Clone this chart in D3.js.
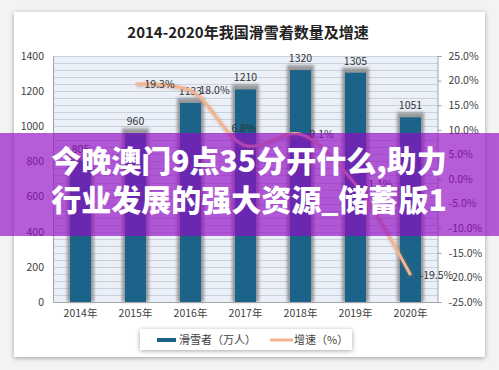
<!DOCTYPE html>
<html>
<head>
<meta charset="utf-8">
<script src="https://cdn.jsdelivr.net/npm/d3@7"></script>
<style>
  html, body { margin: 0; padding: 0; background: #f3f3f3; }
  svg { display: block; font-family: "Noto Sans CJK SC", "Noto Sans", sans-serif; }
</style>
</head>
<body>
<script>
// data
var years = ["2014", "2015", "2016", "2017", "2018", "2019", "2020"];
var skiers = [805, 960, 1133, 1210, 1320, 1305, 1051];
var growthYears = ["2015", "2016", "2017", "2018", "2019", "2020"];
var growth = [19.3, 18.0, 6.8, 9.1, -1.1, -19.5];
var leftTicks = [0, 200, 400, 600, 800, 1000, 1200, 1400];
var rightTicks = [-25, -20, -15, -10, -5, 0, 5, 10, 15, 20, 25];
var title = "2014-2020年我国滑雪着数量及增速";
var legendNames = ["滑雪者（万人）", "增速（%）"];
var overlayLines = ["今晚澳门9点35分开什么,助力", "行业发展的强大资源_储蓄版1"];

// config (plot box edges)
var width = 499, height = 370;
var pLeft = 53, pRight = 438, pTop = 56, pBottom = 302;
var barColor = "#1b6388";
var lineColor = "#f3b48f";

var svg = d3.select("body").append("svg")
  .attr("width", width)
  .attr("height", height);

var defs = svg.append("defs");
defs.append("filter").attr("id", "cardShadow")
  .attr("x", "-10%").attr("y", "-10%").attr("width", "120%").attr("height", "130%")
  .append("feDropShadow")
  .attr("dx", 0).attr("dy", 1).attr("stdDeviation", 2.5)
  .attr("flood-color", "#000").attr("flood-opacity", 0.35);
defs.append("filter").attr("id", "blur")
  .attr("x", "-50%").attr("y", "-50%").attr("width", "200%").attr("height", "200%")
  .append("feGaussianBlur").attr("stdDeviation", 1.6);

// card
svg.append("rect")
  .attr("x", 14).attr("y", 12)
  .attr("width", 471).attr("height", 345)
  .attr("fill", "#fff")
  .attr("filter", "url(#cardShadow)");

// title
svg.append("text")
  .attr("x", 248).attr("y", 38)
  .attr("text-anchor", "middle")
  .attr("font-size", 15)
  .attr("font-weight", "bold")
  .attr("fill", "#222")
  .text(title);

// scales
var x = d3.scaleBand().domain(years).range([pLeft, pRight]).paddingInner(0.618).paddingOuter(0.309);
var yL = d3.scaleLinear().domain([0, 1400]).range([pBottom, pTop]);
var yR = d3.scaleLinear().domain([-25, 25]).range([pBottom, pTop]);
var cx = function(d) { return x(d) + x.bandwidth() / 2; };

// plot background + gridlines
svg.append("rect")
  .attr("x", pLeft).attr("y", pTop)
  .attr("width", pRight - pLeft).attr("height", pBottom - pTop)
  .attr("fill", "#ebf0f8");

svg.append("g")
  .selectAll("line")
  .data(d3.range(40, 1400, 40))
  .join("line")
  .attr("x1", pLeft).attr("x2", pRight)
  .attr("y1", function(d) { return Math.round(yL(d)) + 0.5; })
  .attr("y2", function(d) { return Math.round(yL(d)) + 0.5; })
  .attr("stroke", "#c9d1dd")
  .attr("stroke-width", 1);

svg.append("line")
  .attr("x1", pLeft).attr("x2", pRight)
  .attr("y1", pTop + 0.5).attr("y2", pTop + 0.5)
  .attr("stroke", "#c9d1dd");

// bars: shadow then bar
svg.append("g")
  .selectAll("rect")
  .data(skiers)
  .join("rect")
  .attr("x", function(d, i) { return x(years[i]) - 3; })
  .attr("y", function(d) { return yL(d) - 5; })
  .attr("width", x.bandwidth() + 6)
  .attr("height", function(d) { return pBottom - yL(d) + 5; })
  .attr("fill", "#7d7d7d")
  .attr("opacity", 0.75)
  .attr("filter", "url(#blur)");

svg.append("g")
  .selectAll("rect")
  .data(skiers)
  .join("rect")
  .attr("x", function(d, i) { return x(years[i]); })
  .attr("y", function(d) { return yL(d); })
  .attr("width", x.bandwidth())
  .attr("height", function(d) { return pBottom - yL(d); })
  .attr("fill", barColor);

// axes
var axL = svg.append("g")
  .attr("transform", "translate(" + pLeft + ",0)")
  .call(d3.axisLeft(yL).tickValues(leftTicks).tickSize(0).tickPadding(9).tickFormat(d3.format("d")));
axL.select(".domain").attr("stroke", "#a6a6a6");

var axR = svg.append("g")
  .attr("transform", "translate(" + (pRight - 0.5) + ",0)")
  .call(d3.axisRight(yR).tickValues(rightTicks).tickSize(4).tickPadding(7)
    .tickFormat(function(d) { return d.toFixed(1) + "%"; }));
axR.select(".domain").attr("stroke", "#a6a6a6");
axR.selectAll(".tick line").attr("stroke", "#a6a6a6");

var axB = svg.append("g")
  .attr("transform", "translate(0," + pBottom + ")")
  .call(d3.axisBottom(x).tickSize(0).tickPadding(8)
    .tickFormat(function(d) { return d + "年"; }));
axB.select(".domain").attr("stroke", "#a6a6a6");

svg.selectAll(".tick text")
  .attr("font-family", "\"Noto Sans CJK SC\", sans-serif")
  .attr("font-size", 10.5)
  .attr("fill", "#404040");

// bar labels
svg.append("g")
  .selectAll("text")
  .data(skiers)
  .join("text")
  .attr("x", function(d, i) { return cx(years[i]); })
  .attr("y", function(d) { return yL(d) - 8; })
  .attr("text-anchor", "middle")
  .attr("font-size", 10.5)
  .attr("fill", "#333")
  .text(function(d) { return d; });

// growth line
var line = d3.line()
  .x(function(d, i) { return cx(growthYears[i]); })
  .y(function(d) { return yR(d); })
  .curve(d3.curveCatmullRom.alpha(0.5));

svg.append("path")
  .datum(growth)
  .attr("d", line)
  .attr("fill", "none")
  .attr("stroke", "#b07a66")
  .attr("stroke-width", 3.5)
  .attr("opacity", 0.45)
  .attr("transform", "translate(1,1.5)")
  .attr("filter", "url(#blur)");

svg.append("path")
  .datum(growth)
  .attr("d", line)
  .attr("fill", "none")
  .attr("stroke", lineColor)
  .attr("stroke-width", 3);

// growth labels (6.8% sits above its point, the rest to the right)
svg.append("g")
  .selectAll("text")
  .data(growth)
  .join("text")
  .attr("x", function(d, i) { return growthYears[i] == "2017" ? cx(growthYears[i]) - 2 : cx(growthYears[i]) + 9; })
  .attr("y", function(d, i) { return growthYears[i] == "2017" ? yR(d) - 14 : yR(d) + 4; })
  .attr("text-anchor", function(d, i) { return growthYears[i] == "2017" ? "middle" : "start"; })
  .attr("font-size", 10.5)
  .attr("fill", "#333")
  .text(function(d) { return d.toFixed(1) + "%"; });

// legend
var lg = svg.append("g");
lg.append("rect")
  .attr("x", 140).attr("y", 329)
  .attr("width", 212).attr("height", 21)
  .attr("fill", "#fff")
  .attr("filter", "url(#cardShadow)");
lg.append("rect")
  .attr("x", 157).attr("y", 338)
  .attr("width", 19).attr("height", 4)
  .attr("fill", barColor);
lg.append("text")
  .attr("x", 179).attr("y", 344)
  .attr("font-size", 11)
  .attr("fill", "#404040")
  .text(legendNames[0]);
lg.append("line")
  .attr("x1", 270).attr("x2", 293)
  .attr("y1", 340).attr("y2", 340)
  .attr("stroke", lineColor)
  .attr("stroke-width", 3);
lg.append("text")
  .attr("x", 294).attr("y", 344)
  .attr("font-size", 11)
  .attr("fill", "#404040")
  .text(legendNames[1]);

// purple banner on top
svg.append("rect")
  .attr("x", 0).attr("y", 133)
  .attr("width", width).attr("height", 103)
  .attr("fill", "rgb(146,12,196)")
  .attr("opacity", 0.67);

svg.append("g")
  .selectAll("text")
  .data(overlayLines)
  .join("text")
  .attr("x", 249)
  .attr("y", function(d, i) { return 172 + i * 39; })
  .attr("text-anchor", "middle")
  .attr("font-size", 30)
  .attr("font-weight", 900)
  .attr("fill", "#fff")
  .text(function(d) { return d; });
</script>
</body>
</html>
